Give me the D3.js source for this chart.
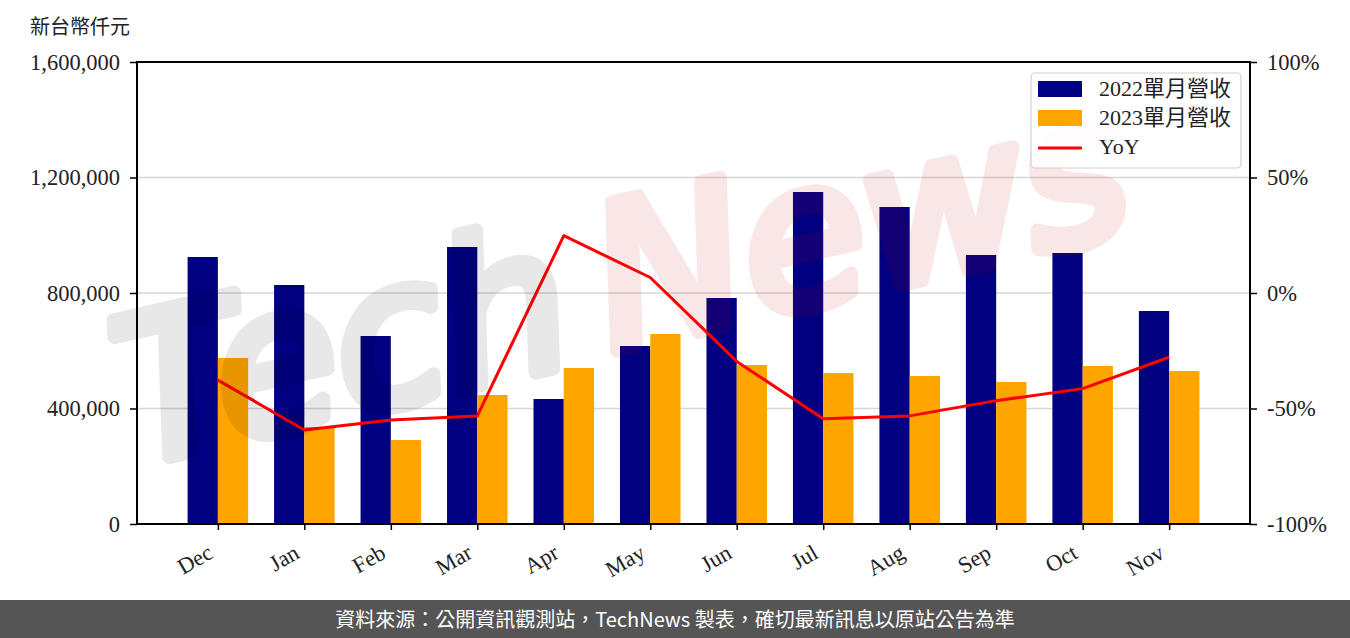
<!DOCTYPE html>
<html>
<head>
<meta charset="utf-8">
<script src="https://cdn.jsdelivr.net/npm/d3@7"></script>
<style>
  body { margin: 0; background: #fff; }
  svg text { font-family: "Liberation Serif", "Noto Sans CJK TC", serif; }
</style>
</head>
<body>
<script>
// months on the x axis
var months = ["Dec", "Jan", "Feb", "Mar", "Apr", "May", "Jun", "Jul", "Aug", "Sep", "Oct", "Nov"]
// monthly revenue, thousand NTD
var rev2022 = [924700, 827700, 651100, 959300, 432900, 616400, 782700, 1149800, 1097800, 931600, 938500, 737700]
var rev2023 = [574900, 335900, 290900, 446700, 540300, 658000, 550600, 522900, 512600, 491800, 547200, 529900]
// year over year change, percent
var yoy = [-37.7, -59.3, -55.0, -53.2, 24.8, 6.7, -29.6, -54.4, -53.2, -46.6, -41.4, -27.8]
// axis ticks
var leftTicks = [0, 400000, 800000, 1200000, 1600000]
var rightTicks = [-100, -50, 0, 50, 100]
var seriesNames = ["2022單月營收", "2023單月營收", "YoY"]

drawChart()

function drawChart() {
    var w = 1350
    var h = 638
    // plot area edges
    var pl = 137, pr = 1250, pt = 62, pb = 524
    var barW = 0.35

    var svg = d3.select("body").append("svg")
        .attr("width", w)
        .attr("height", h)

    // scales
    var xScale = d3.scaleLinear()
        .domain([-barW - 0.585, 11 + barW + 0.585])
        .range([pl, pr])
    var yScale = d3.scaleLinear()
        .domain([0, 1600000])
        .range([pb, pt])
    var y2Scale = d3.scaleLinear()
        .domain([-100, 100])
        .range([pb, pt])

    // grid lines
    svg.append("g")
        .selectAll("line")
        .data(leftTicks.slice(1, 4))
        .enter()
        .append("line")
        .attr("x1", pl)
        .attr("x2", pr)
        .attr("y1", function(d) { return yScale(d) })
        .attr("y2", function(d) { return yScale(d) })
        .attr("stroke", "#d6d6d6")
        .attr("stroke-width", 1.6)

    // bars
    svg.append("g")
        .selectAll("rect")
        .data(rev2022)
        .enter()
        .append("rect")
        .attr("x", function(d, i) { return xScale(i - barW) })
        .attr("y", function(d) { return yScale(d) })
        .attr("width", xScale(barW) - xScale(0))
        .attr("height", function(d) { return pb - yScale(d) })
        .attr("fill", "#000080")

    svg.append("g")
        .selectAll("rect")
        .data(rev2023)
        .enter()
        .append("rect")
        .attr("x", function(d, i) { return xScale(i) })
        .attr("y", function(d) { return yScale(d) })
        .attr("width", xScale(barW) - xScale(0))
        .attr("height", function(d) { return pb - yScale(d) })
        .attr("fill", "#ffa500")

    // yoy line
    var line = d3.line()
        .x(function(d, i) { return xScale(i) })
        .y(function(d) { return y2Scale(d) })

    svg.append("path")
        .datum(yoy)
        .attr("d", line)
        .attr("fill", "none")
        .attr("stroke", "#ff0000")
        .attr("stroke-width", 3)
        .attr("stroke-linejoin", "round")

    // watermark, each half in its own group so the thick stroke does not stack alpha
    var wmT = svg.append("g").attr("opacity", 0.085)
    wmT.append("text")
        .attr("transform", "translate(135, 465) rotate(-13)")
        .attr("font-size", 200)
        .attr("font-style", "italic")
        .attr("fill", "#000")
        .attr("stroke", "#000")
        .attr("stroke-width", 14)
        .attr("stroke-linejoin", "round")
        .style("font-family", "'DejaVu Sans', sans-serif")
        .text("Tech")
    var wmN = svg.append("g").attr("opacity", 0.09)
    wmN.append("text")
        .attr("transform", "translate(612, 352) rotate(-13)")
        .attr("font-size", 200)
        .attr("font-style", "italic")
        .attr("fill", "#c00505")
        .attr("stroke", "#c00505")
        .attr("stroke-width", 14)
        .attr("stroke-linejoin", "round")
        .style("font-family", "'DejaVu Sans', sans-serif")
        .text("News")

    // axes
    var xAxis = d3.axisBottom(xScale)
        .tickValues(d3.range(months.length))
        .tickFormat(function(d) { return months[d] })
        .tickSize(6)
    var yAxis = d3.axisLeft(yScale)
        .tickValues(leftTicks)
        .tickFormat(d3.format(","))
        .tickSize(7)
        .tickPadding(10)
    var y2Axis = d3.axisRight(y2Scale)
        .tickValues(rightTicks)
        .tickFormat(function(d) { return d + "%" })
        .tickSize(7)
        .tickPadding(10)

    var gx = svg.append("g")
        .attr("transform", "translate(0," + pb + ")")
        .call(xAxis)
    gx.selectAll("text")
        .attr("text-anchor", "end")
        .attr("y", 0)
        .attr("dy", 0)
        .attr("transform", "translate(-4, 33) rotate(-30)")

    svg.append("g")
        .attr("transform", "translate(" + pl + ",0)")
        .call(yAxis)
    svg.append("g")
        .attr("transform", "translate(" + pr + ",0)")
        .call(y2Axis)

    svg.selectAll(".domain").remove()
    svg.selectAll(".tick line").attr("stroke", "#000").attr("stroke-width", 1.5)
    svg.selectAll(".tick text")
        .attr("font-size", 22.5)
        .attr("fill", "#222")
        .style("font-family", "'Liberation Serif', serif")

    // frame
    svg.append("rect")
        .attr("x", pl)
        .attr("y", pt)
        .attr("width", pr - pl)
        .attr("height", pb - pt)
        .attr("fill", "none")
        .attr("stroke", "#000")
        .attr("stroke-width", 2)

    // unit label
    svg.append("text")
        .attr("x", 30)
        .attr("y", 34)
        .attr("font-size", 20)
        .attr("fill", "#222")
        .style("font-family", "'Noto Sans CJK TC', sans-serif")
        .text("新台幣仟元")

    // legend
    var lg = svg.append("g")
    lg.append("rect")
        .attr("x", 1031)
        .attr("y", 73)
        .attr("width", 210)
        .attr("height", 95)
        .attr("rx", 4)
        .attr("fill", "#fff")
        .attr("fill-opacity", 0.85)
        .attr("stroke", "#d0d0d0")
        .attr("stroke-width", 1.2)
    var lgColors = ["#000080", "#ffa500", "#ff0000"]
    seriesNames.forEach(function(name, i) {
        var cy = 89 + i * 29
        if (i < 2) {
            lg.append("rect")
                .attr("x", 1038)
                .attr("y", cy - 8)
                .attr("width", 44)
                .attr("height", 16)
                .attr("fill", lgColors[i])
        } else {
            lg.append("line")
                .attr("x1", 1038)
                .attr("x2", 1082)
                .attr("y1", cy + 1)
                .attr("y2", cy + 1)
                .attr("stroke", lgColors[i])
                .attr("stroke-width", 3)
        }
        lg.append("text")
            .attr("x", 1099)
            .attr("y", cy + 7)
            .attr("font-size", 22)
            .attr("fill", "#222")
            .text(name)
    })

    // footer
    svg.append("rect")
        .attr("x", 0)
        .attr("y", 600)
        .attr("width", w)
        .attr("height", 38)
        .attr("fill", "#555555")
    svg.append("text")
        .attr("x", w / 2)
        .attr("y", 627)
        .attr("text-anchor", "middle")
        .attr("font-size", 20)
        .attr("fill", "#fff")
        .style("font-family", "'Noto Sans CJK TC', sans-serif")
        .text("資料來源：公開資訊觀測站，TechNews 製表，確切最新訊息以原站公告為準")
}
</script>
</body>
</html>
